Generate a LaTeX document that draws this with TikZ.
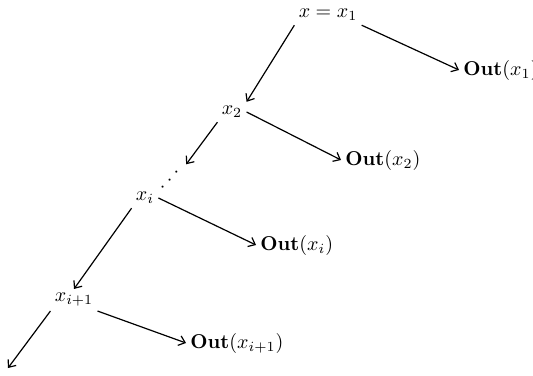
\documentclass[tikz,border=0pt]{standalone}
\usetikzlibrary{arrows.meta}
\begin{document}
\begin{tikzpicture}[x=0.5pt,y=-0.5pt,
  lbl/.style={inner sep=2pt,font=\fontsize{10}{12}\selectfont},
  arr/.style={-{Straight Barb[length=3pt,width=5pt]},line width=0.6pt}]
\useasboundingbox (0,0) rectangle (533,375);
\node[lbl] (n1) at (328,15) {$x=x_1$};
\node[lbl,anchor=west] (o1) at (459,70) {\textbf{Out}$(x_1)$};
\node[lbl] (n2) at (232,112) {$x_2$};
\node[lbl,anchor=west] (o2) at (341,160) {\textbf{Out}$(x_2)$};
\node[inner sep=1pt,rotate=49] (d) at (170,180) {${\cdot}\hspace{2.4pt}{\cdot}\hspace{2.4pt}{\cdot}$};
\node[lbl] (ni) at (145,198) {$x_i$};
\node[lbl,anchor=west] (oi) at (256,245) {\textbf{Out}$(x_i)$};
\node[lbl] (nj) at (74,300) {$x_{i+1}$};
\node[lbl,anchor=west] (oj) at (186,343) {\textbf{Out}$(x_{i+1})$};
\coordinate (e) at (8,368);
\draw[arr] (n1.south west) -- (n2.north east);
\draw[arr] (n1.south east) -- (o1.west);
\draw[arr] (n2.south west) -- ([shift={(3pt,2pt)}]d.east);
\draw[arr] (n2.east) -- (o2.west);
\draw[arr] (ni.east) -- (oi.west);
\draw[arr] (ni.south west) -- (nj.north);
\draw[arr] (nj.south east) -- (oj.west);
\draw[arr] (nj.south west) -- (e);
\end{tikzpicture}
\end{document}
